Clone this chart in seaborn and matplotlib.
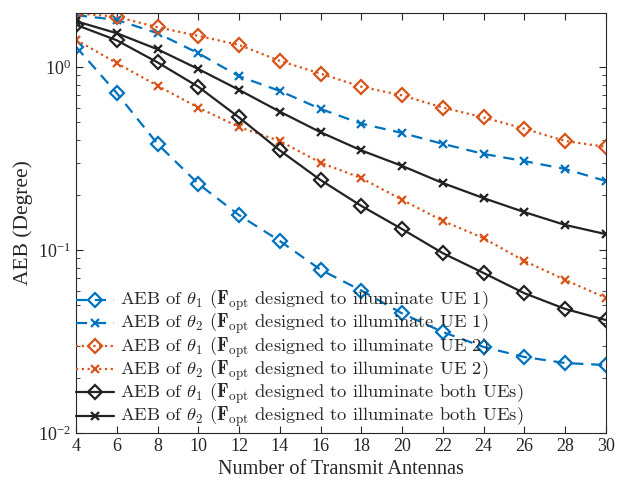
import numpy as np
import pandas as pd
import matplotlib
matplotlib.use('Agg')
import matplotlib.pyplot as plt
from matplotlib.font_manager import FontProperties
import seaborn as sns

# antenna counts
antennas = [4, 6, 8, 10, 12, 14, 16, 18, 20, 22, 24, 26, 28, 30]

# AEB values (degree)
aeb_t1_ue1 = [1.29, 0.72, 0.38, 0.23, 0.155, 0.112, 0.078, 0.060, 0.045, 0.0356, 0.0295, 0.026, 0.0241, 0.0235]
aeb_t2_ue1 = [1.92, 1.81, 1.53, 1.19, 0.89, 0.74, 0.59, 0.49, 0.436, 0.38, 0.335, 0.306, 0.277, 0.238]
aeb_t1_ue2 = [1.97, 1.88, 1.65, 1.48, 1.32, 1.08, 0.92, 0.78, 0.70, 0.60, 0.53, 0.46, 0.394, 0.366]
aeb_t2_ue2 = [1.41, 1.05, 0.79, 0.60, 0.47, 0.394, 0.30, 0.247, 0.188, 0.144, 0.116, 0.087, 0.0686, 0.0547]
aeb_t1_both = [1.70, 1.40, 1.06, 0.78, 0.53, 0.35, 0.241, 0.174, 0.130, 0.096, 0.0748, 0.058, 0.0476, 0.0414]
aeb_t2_both = [1.78, 1.53, 1.25, 0.975, 0.75, 0.57, 0.44, 0.35, 0.288, 0.232, 0.192, 0.161, 0.137, 0.122]

labels = [
    r'AEB of $\theta_1$ ($\mathbf{F}_{\rm opt}$ designed to illuminate UE 1)',
    r'AEB of $\theta_2$ ($\mathbf{F}_{\rm opt}$ designed to illuminate UE 1)',
    r'AEB of $\theta_1$ ($\mathbf{F}_{\rm opt}$ designed to illuminate UE 2)',
    r'AEB of $\theta_2$ ($\mathbf{F}_{\rm opt}$ designed to illuminate UE 2)',
    r'AEB of $\theta_1$ ($\mathbf{F}_{\rm opt}$ designed to illuminate both UEs)',
    r'AEB of $\theta_2$ ($\mathbf{F}_{\rm opt}$ designed to illuminate both UEs)',
]
series = [aeb_t1_ue1, aeb_t2_ue1, aeb_t1_ue2, aeb_t2_ue2, aeb_t1_both, aeb_t2_both]

blue = '#0072BD'
orange = '#D95319'
black = '#222222'
colors = [blue, blue, orange, orange, black, black]
styles = [(0, (5, 3.5)), (0, (5, 3.5)), (0, (1, 1.6)), (0, (1, 1.6)), '-', '-']
marks = ['D', 'x', 'D', 'x', 'D', 'x']

sns.set_style('ticks')
plt.rcParams['font.family'] = ['Liberation Serif', 'DejaVu Serif']
plt.rcParams['mathtext.fontset'] = 'stix'

fig = plt.figure(figsize=(6.25, 4.87), dpi=100)
ax = fig.add_axes([0.1216, 0.111, 0.848, 0.862])

for vals, lab, c, ls, m in zip(series, labels, colors, styles, marks):
    df = pd.DataFrame({'N': antennas, 'AEB': vals})
    ms = 7 if m == 'D' else 6
    sns.lineplot(data=df, x='N', y='AEB', ax=ax, color=c, linestyle=ls,
                 marker=m, markersize=ms, mfc='none', mec=c, mew=1.6,
                 linewidth=1.6, label=lab)

ax.set_yscale('log')
ax.set_xlim(4, 30)
ax.set_ylim(0.01, 1.97)
ax.set_xticks(antennas)
ax.set_xlabel('Number of Transmit Antennas', fontsize=14.6)
ax.set_ylabel('AEB (Degree)', fontsize=15.5)
ax.tick_params(which='both', direction='in', top=True, right=True, labelsize=13, colors='#262626')
ax.tick_params(which='major', length=5)
ax.tick_params(which='minor', length=3)
for s in ax.spines.values():
    s.set_color('#262626')
    s.set_linewidth(0.8)

# legend text in Computer Modern, like a LaTeX legend
leg_font = FontProperties(family='cmr10', size=13.3, math_fontfamily='cm')
ax.legend(loc='lower left', bbox_to_anchor=(-0.02, -0.02), frameon=False, prop=leg_font,
          handlelength=2.05, handletextpad=0.3, labelspacing=-0.1, borderaxespad=0.2)

fig.savefig('out.png', dpi=100)
